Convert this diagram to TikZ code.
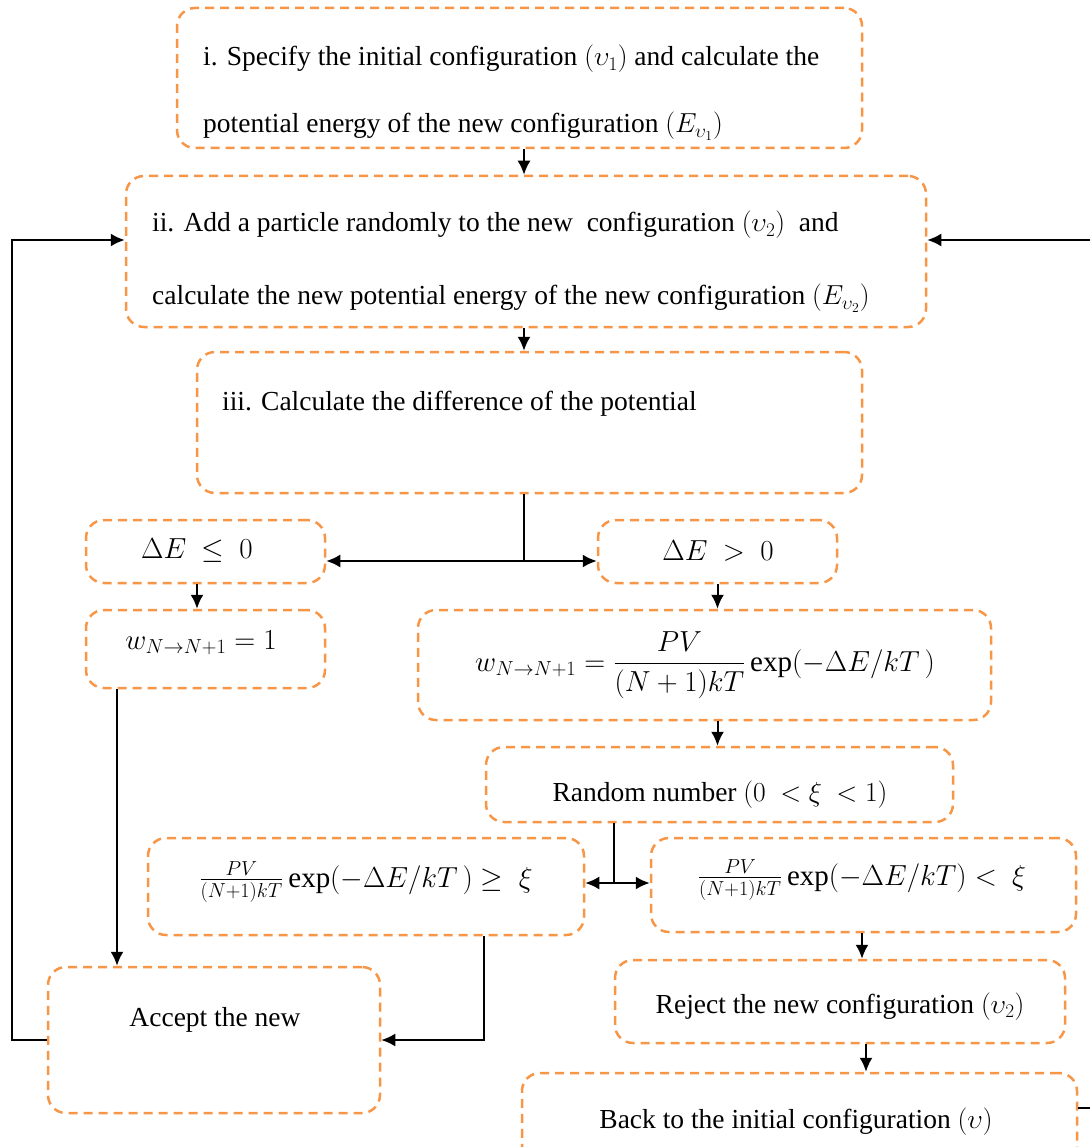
\RequirePackage{fix-cm}
\documentclass[tikz,border=0pt]{standalone}
\usepackage{amsmath}
\usepackage{fontspec}
\setmainfont{Liberation Serif}
\newfontfamily\tnr{Liberation Serif}
\usetikzlibrary{arrows.meta,calc}
\definecolor{boxorange}{HTML}{F79646}
\begin{document}
\begin{tikzpicture}[x=1pt,y=-1pt,
  flowbox/.style={draw=boxorange, line width=2.5pt, dash pattern=on 9pt off 6pt, rounded corners=18pt, inner sep=0pt},
  arr/.style={line width=2pt, -{Latex[length=14pt,width=13pt]}},
  darr/.style={line width=2pt, {Latex[length=14pt,width=13pt]}-{Latex[length=14pt,width=13pt]}},
  plain/.style={line width=2pt},
  txt/.style={font=\tnr\fontsize{27.5}{32}\selectfont, inner sep=0pt},
  mtxt/.style={font=\tnr\fontsize{29}{34}\selectfont, inner sep=0pt},
]
\useasboundingbox (0,0) rectangle (1089,1147);
% boxes
\node[flowbox, minimum width=685pt, minimum height=140pt] (b1) at (519.5,78) {};
\node[flowbox, minimum width=800pt, minimum height=151pt] (b2) at (526,251.5) {};
\node[flowbox, minimum width=665pt, minimum height=141pt] (b3) at (529.5,422.5) {};
\node[flowbox, minimum width=239pt, minimum height=63pt] (dle) at (205.5,551.5) {};
\node[flowbox, minimum width=239pt, minimum height=63pt] (dgt) at (717.5,551.5) {};
\node[flowbox, minimum width=239pt, minimum height=78pt] (w1) at (205.5,649) {};
\node[flowbox, minimum width=573pt, minimum height=110pt] (wf) at (704.5,665) {};
\node[flowbox, minimum width=467pt, minimum height=75pt] (rnd) at (719.5,784.5) {};
\node[flowbox, minimum width=436pt, minimum height=97pt] (lc) at (366,886.5) {};
\node[flowbox, minimum width=425pt, minimum height=94pt] (rc) at (863.5,885) {};
\node[flowbox, minimum width=332pt, minimum height=146pt] (acc) at (214,1040) {};
\node[flowbox, minimum width=450pt, minimum height=83pt] (rej) at (840,1001.5) {};
\node[flowbox, minimum width=555pt, minimum height=92pt] (back) at (799.5,1119) {};
% texts
\node[txt, anchor=base west] (t1a) at (203,66) {i. Specify the initial configuration $(\upsilon_1)$ and calculate the};
\node[txt, anchor=base west] (t1b) at (203,133) {potential energy of the new configuration $(E_{\upsilon_1})$};
\node[txt, anchor=base west] (t2a) at (152,232) {ii. Add a particle randomly to the new\ \ configuration $(\upsilon_2)$\ \ and};
\node[txt, anchor=base west] (t2b) at (152,305) {calculate the new potential energy of the new configuration $(E_{\upsilon_2})$};
\node[txt, anchor=base west] (t3) at (222,410) {iii. Calculate the difference of the potential};
\node[mtxt] (tdle) at (197,551) {$\Delta E\ \leq\ 0$};
\node[mtxt] (tdgt) at (718,551) {$\Delta E\ >\ 0$};
\node[mtxt] (tw1) at (201,643) {$w_{N\rightarrow N+1} = 1$};
\node[mtxt] (twf) at (705,665) {$\displaystyle w_{N\rightarrow N+1} = \frac{PV}{(N+1)kT}\exp(-\Delta E/kT\,)$};
\node[txt, anchor=base] (trnd) at (720,801) {Random number $(0\ <\xi\ <1)$};
\node[mtxt] (tlc) at (366,882) {$\frac{PV}{(N+1)kT}\exp(-\Delta E/kT\,)\geq\ \xi$};
\node[mtxt] (trc) at (862,880) {$\frac{PV}{(N+1)kT}\exp(-\Delta E/kT)<\ \xi$};
\node[txt, anchor=base] (tacc) at (215,1026) {Accept the new};
\node[txt, anchor=base] (trej) at (840,1013) {Reject the new configuration $(\upsilon_2)$};
\node[txt, anchor=base] (tback) at (796,1128) {Back to the initial configuration $(\upsilon)$};
% helper coordinates
\coordinate (spine) at (524,561);
\coordinate (x197) at (197,0);
\coordinate (x117) at (117,0);
\coordinate (split2) at (614,883);
\coordinate (x484) at (484,0);
\coordinate (x862) at (862,0);
\coordinate (x866) at (866,0);
\coordinate (lloop) at (12,1040);
\coordinate (rloop) at (1095,1108);
\coordinate (y240) at (0,240);
% connectors
\draw[arr] (b1.south -| spine) -- (b2.north -| spine);
\draw[arr] (b2.south -| spine) -- (b3.north -| spine);
\draw[plain] (b3.south -| spine) -- (spine);
\draw[darr] (dle.east |- spine) -- (dgt.west |- spine);
\draw[arr] (dle.south -| x197) -- (w1.north -| x197);
\draw[arr] (dgt.south) -- (wf.north -| dgt.south);
\draw[arr] (wf.south -| dgt.south) -- (rnd.north -| dgt.south);
\draw[plain] (rnd.south -| split2) -- (split2);
\draw[darr] (lc.east |- split2) -- (rc.west |- split2);
\draw[arr] (w1.south -| x117) -- (acc.north -| x117);
\draw[arr] (lc.south -| x484) -- (x484 |- acc.east) -- (acc.east);
\draw[arr] (rc.south -| x862) -- (rej.north -| x862);
\draw[arr] (rej.south -| x866) -- (back.north -| x866);
\draw[arr] (acc.west) -- (lloop) -- (lloop |- y240) -- (b2.west |- y240);
\draw[arr] (back.east |- rloop) -- (rloop) -- (rloop |- y240) -- (b2.east |- y240);
\end{tikzpicture}
\end{document}
